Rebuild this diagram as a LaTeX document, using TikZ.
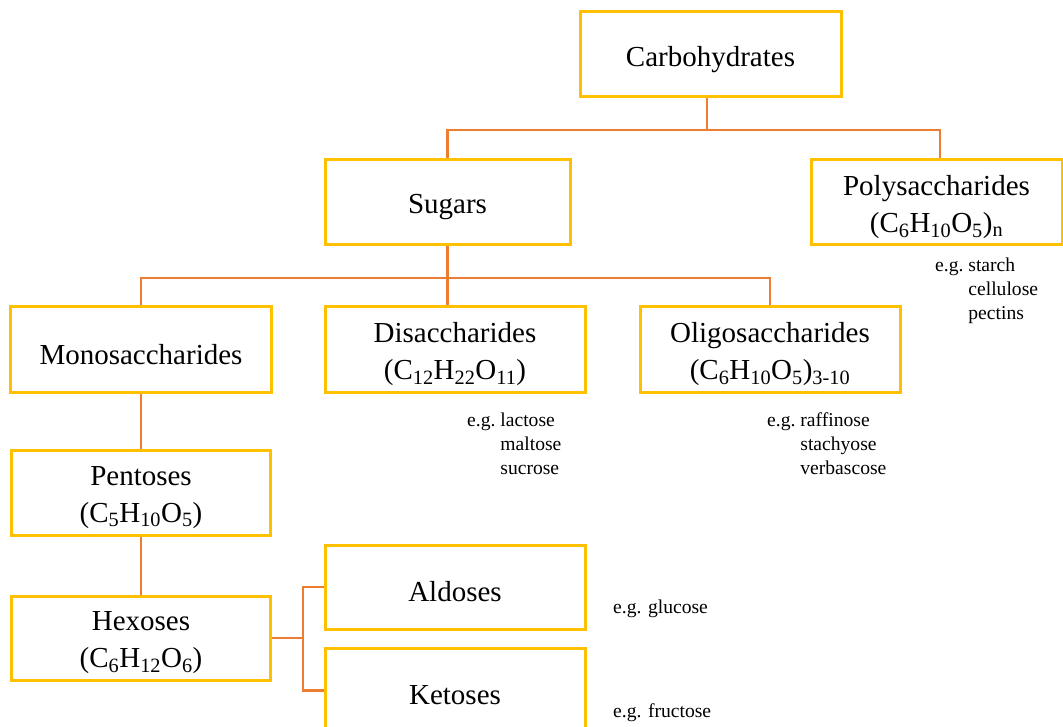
\documentclass[tikz,border=0pt]{standalone}
\usepackage{fontspec}
\setmainfont{Liberation Serif}
\definecolor{boxc}{HTML}{FFC000}
\definecolor{connc}{HTML}{ED7D31}
\begin{document}
\begin{tikzpicture}[x=1pt,y=-1pt,
  box/.style={draw=boxc, line width=3pt, minimum height=85pt, inner sep=0pt},
  lab/.style={font=\fontsize{29}{37}\selectfont, align=center, inner sep=0pt, yshift=-4.6pt},
  conn/.style={draw=connc, line width=2.8pt},
  eg/.style={font=\fontsize{19.6}{24}\selectfont, inner sep=0pt, anchor=base west}]
\useasboundingbox (0,0) rectangle (1063,727);
\clip (0,0) rectangle (1063,727);
% boxes
\node[box, minimum width=261pt, label={[lab]center:Carbohydrates}] (carb) at (710.5,54.5) {};
\node[box, minimum width=245pt, label={[lab]center:Sugars}] (sugars) at (447.5,202.5) {};
\node[box, minimum width=251pt, label={[lab]center:{Polysaccharides\\(C\textsubscript{6}H\textsubscript{10}O\textsubscript{5})\textsubscript{n}}}] (poly) at (936.5,202.5) {};
\node[box, minimum width=261pt, label={[lab]center:Monosaccharides}] (mono) at (141,349.5) {};
\node[box, minimum width=260pt, label={[lab]center:{Disaccharides\\(C\textsubscript{12}H\textsubscript{22}O\textsubscript{11})}}] (di) at (455,349.5) {};
\node[box, minimum width=260pt, label={[lab]center:{Oligosaccharides\\(C\textsubscript{6}H\textsubscript{10}O\textsubscript{5})\textsubscript{3-10}}}] (oligo) at (770,349.5) {};
\node[box, minimum width=259pt, label={[lab]center:{Pentoses\\(C\textsubscript{5}H\textsubscript{10}O\textsubscript{5})}}] (pent) at (141,492.5) {};
\node[box, minimum width=259pt, minimum height=84pt, label={[lab]center:{Hexoses\\(C\textsubscript{6}H\textsubscript{12}O\textsubscript{6})}}] (hex) at (141,638) {};
\node[box, minimum width=260pt, minimum height=84pt, label={[lab]center:Aldoses}] (ald) at (455,587) {};
\node[box, minimum width=260pt, label={[lab]center:Ketoses}] (ket) at (455,690.5) {};
% bus coordinates
\coordinate (b1) at (0,130);
\coordinate (b2) at (0,278);
\coordinate (hx) at (303,0);
\coordinate (cs) at ([xshift=-3.5pt]carb.south);
\coordinate (pn) at ([xshift=3.5pt]poly.north);
% connectors
\draw[conn] (cs) -- (cs |- b1);
\draw[conn] (sugars.north) |- (cs |- b1) -| (pn);
\draw[conn] (sugars.south) -- (sugars.south |- di.north);
\draw[conn] (mono.north) |- (sugars.south |- b2) -| (oligo.north);
\draw[conn] (mono.south) -- (pent.north);
\draw[conn] (pent.south) -- (hex.north);
\draw[conn] (hex.east) -- (hex.east -| hx);
\draw[conn] (ald.west) -- (ald.west -| hx) -- (ket.west -| hx) -- (ket.west);
% examples
\node[eg] (egpoly) at (935,272) {\begin{tabular}[t]{@{}l@{\ }l@{}}e.g. & starch\\ & cellulose\\ & pectins\end{tabular}};
\node[eg] (egdi) at (467,426) {\begin{tabular}[t]{@{}l@{\ }l@{}}e.g. & lactose\\ & maltose\\ & sucrose\end{tabular}};
\node[eg] (egoligo) at (767,426) {\begin{tabular}[t]{@{}l@{\ }l@{}}e.g. & raffinose\\ & stachyose\\ & verbascose\end{tabular}};
\node[eg] (egald) at (613,613) {e.g. glucose};
\node[eg] (egket) at (613,717) {e.g. fructose};
\end{tikzpicture}
\end{document}
